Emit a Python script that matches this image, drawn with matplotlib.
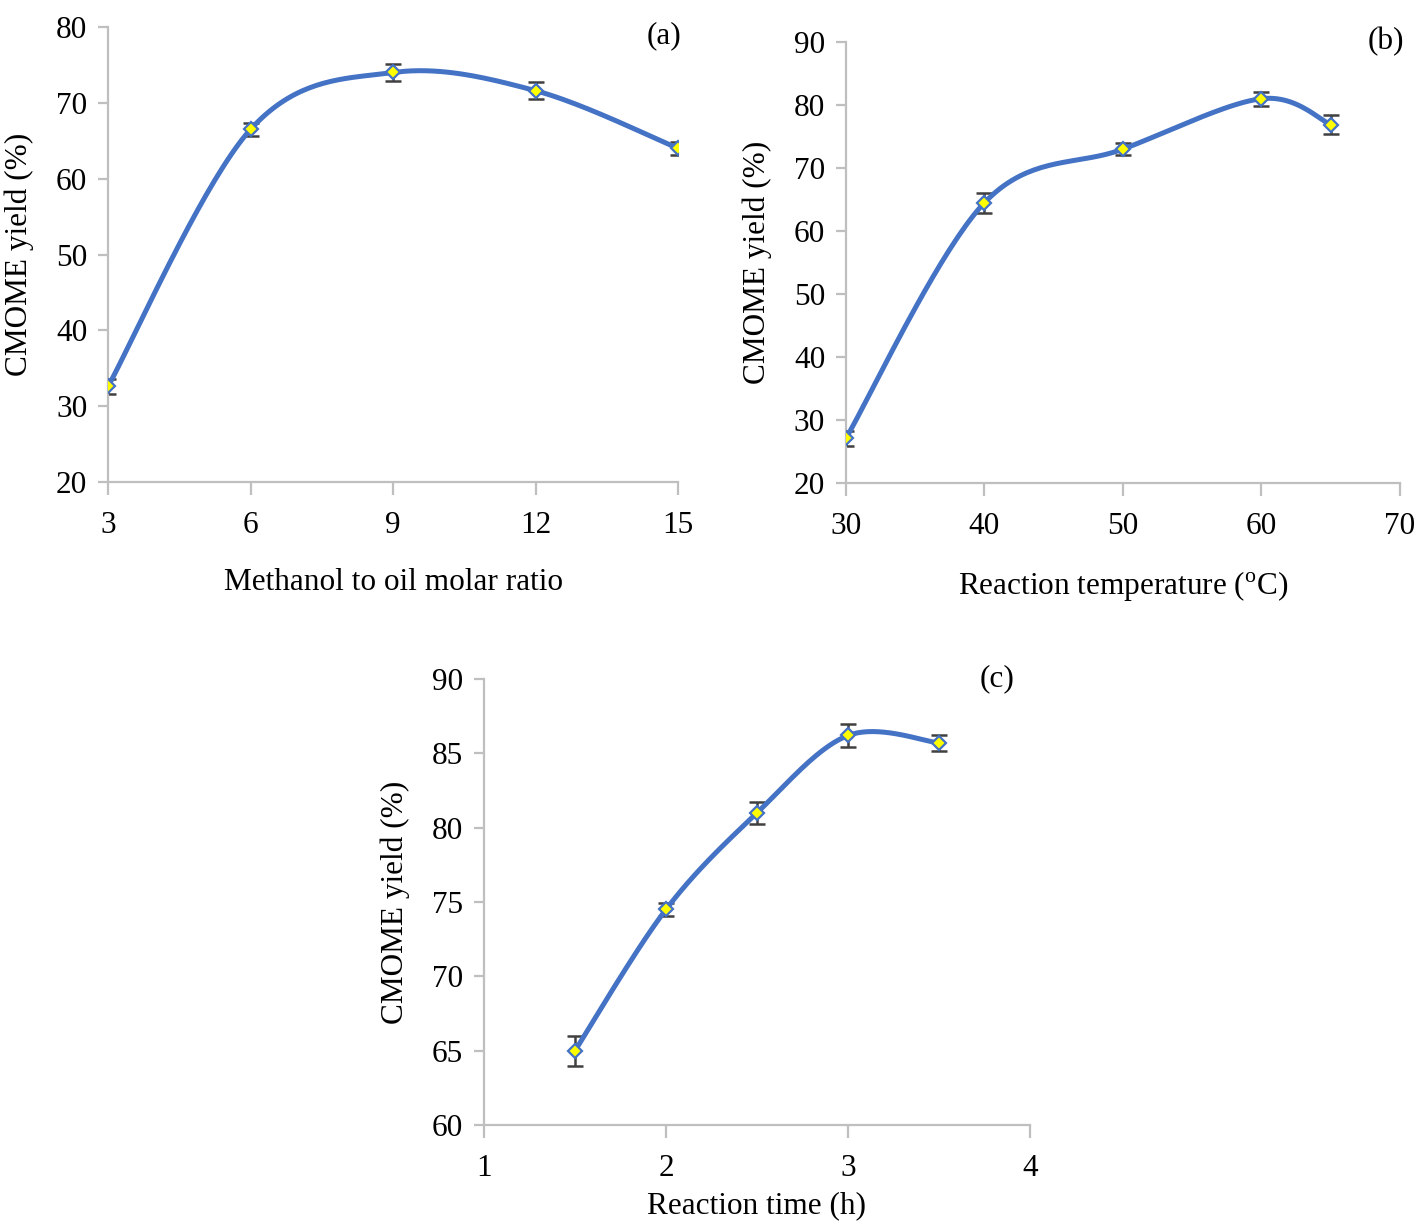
import numpy as np
import matplotlib.pyplot as plt

plt.rcParams['font.family'] = 'Liberation Serif'
plt.rcParams['mathtext.fontset'] = 'custom'
plt.rcParams['mathtext.rm'] = 'Liberation Serif'

# (a) methanol to oil molar ratio
ratio = [3, 6, 9, 12, 15]
yield_a = [32.6, 66.5, 74.0, 71.6, 64.0]
err_a = [1.0, 0.85, 1.1, 1.1, 0.9]

# (b) reaction temperature
temp = [30, 40, 50, 60, 65]
yield_b = [27.1, 64.5, 73.0, 81.0, 76.9]
err_b = [1.2, 1.6, 0.95, 1.1, 1.5]

# (c) reaction time
time_h = [1.5, 2, 2.5, 3, 3.5]
yield_c = [65.0, 74.5, 81.0, 86.2, 85.7]
err_c = [1.0, 0.46, 0.76, 0.8, 0.56]

BLUE = '#4472C4'
GREY = '#BFBFBF'
FS = 22.5


def smooth(x, y, xr, yr, w, h, n=40):
    # Excel-like smoothed line (Catmull-Rom as Bezier) in screen-ish space
    u = (np.asarray(x, float) - xr[0]) / (xr[1] - xr[0]) * w
    v = (np.asarray(y, float) - yr[0]) / (yr[1] - yr[0]) * h
    p = np.column_stack([u, v])
    p = np.vstack([p[0], p, p[-1]])
    t = np.linspace(0, 1, n)[:, None]
    out = []
    for i in range(1, len(p) - 2):
        p0, p1, p2, p3 = p[i - 1], p[i], p[i + 1], p[i + 2]
        c1 = p1 + (p2 - p0) / 6
        c2 = p2 - (p3 - p1) / 6
        seg = ((1 - t) ** 3) * p1 + 3 * ((1 - t) ** 2) * t * c1 + 3 * (1 - t) * t ** 2 * c2 + t ** 3 * p2
        out.append(seg)
    s = np.vstack(out)
    return s[:, 0] / w * (xr[1] - xr[0]) + xr[0], s[:, 1] / h * (yr[1] - yr[0]) + yr[0]


def panel(rect, x, y, e, xr, yr, xticks, yticks, xlabel, tag, tagpos, labelpad):
    ax = fig.add_axes(rect)
    w = rect[2] * fig.get_figwidth()
    h = rect[3] * fig.get_figheight()
    sx, sy = smooth(x, y, xr, yr, w, h)
    ax.errorbar(x, y, yerr=e, fmt='none', ecolor='#404040', elinewidth=1.8,
                capsize=6, capthick=1.8, zorder=2)
    ax.plot(sx, sy, color=BLUE, lw=3.6, zorder=3, solid_capstyle='round')
    ax.plot(x, y, ls='none', marker='D', ms=7.5, mfc='#FFFF00', mec=BLUE, mew=1.6, zorder=4)
    ax.set_xlim(*xr)
    ax.set_ylim(*yr)
    ax.set_xticks(xticks)
    ax.set_yticks(yticks)
    for s in ['top', 'right']:
        ax.spines[s].set_visible(False)
    for s in ['left', 'bottom']:
        ax.spines[s].set_color(GREY)
        ax.spines[s].set_linewidth(1.6)
    ax.tick_params(axis='both', direction='out', color=GREY, width=1.6, labelsize=FS,
                   labelcolor='black')
    ax.tick_params(axis='x', length=9, pad=12)
    ax.tick_params(axis='y', length=7, pad=8)
    ax.set_xlabel(xlabel, fontsize=FS, labelpad=labelpad)
    ax.set_ylabel('CMOME yield (%)', fontsize=FS, labelpad=16)
    ax.text(tagpos[0], tagpos[1], tag, transform=ax.transAxes, fontsize=FS,
            ha='center', va='center')
    for sp in ax.spines.values():
        sp.set_clip_on(False)
    return ax


fig = plt.figure(figsize=(14.18, 12.21), dpi=100)

panel([0.0762, 0.6052, 0.4020, 0.3727], ratio, yield_a, err_a, (3, 15), (20, 80),
      [3, 6, 9, 12, 15], range(20, 81, 10), 'Methanol to oil molar ratio', '(a)',
      (0.975, 0.98), 20)
panel([0.5966, 0.6044, 0.3907, 0.3612], temp, yield_b, err_b, (30, 70), (20, 90),
      range(30, 71, 10), range(20, 91, 10), r'Reaction temperature ($^{\rm o}$C)', '(b)',
      (0.975, 1.0), 20)
panel([0.3413, 0.0786, 0.3851, 0.3653], time_h, yield_c, err_c, (1, 4), (60, 90),
      [1, 2, 3, 4], range(60, 91, 5), 'Reaction time (h)', '(c)',
      (0.94, 1.0), 6)

fig.savefig('out.png', dpi=100)
